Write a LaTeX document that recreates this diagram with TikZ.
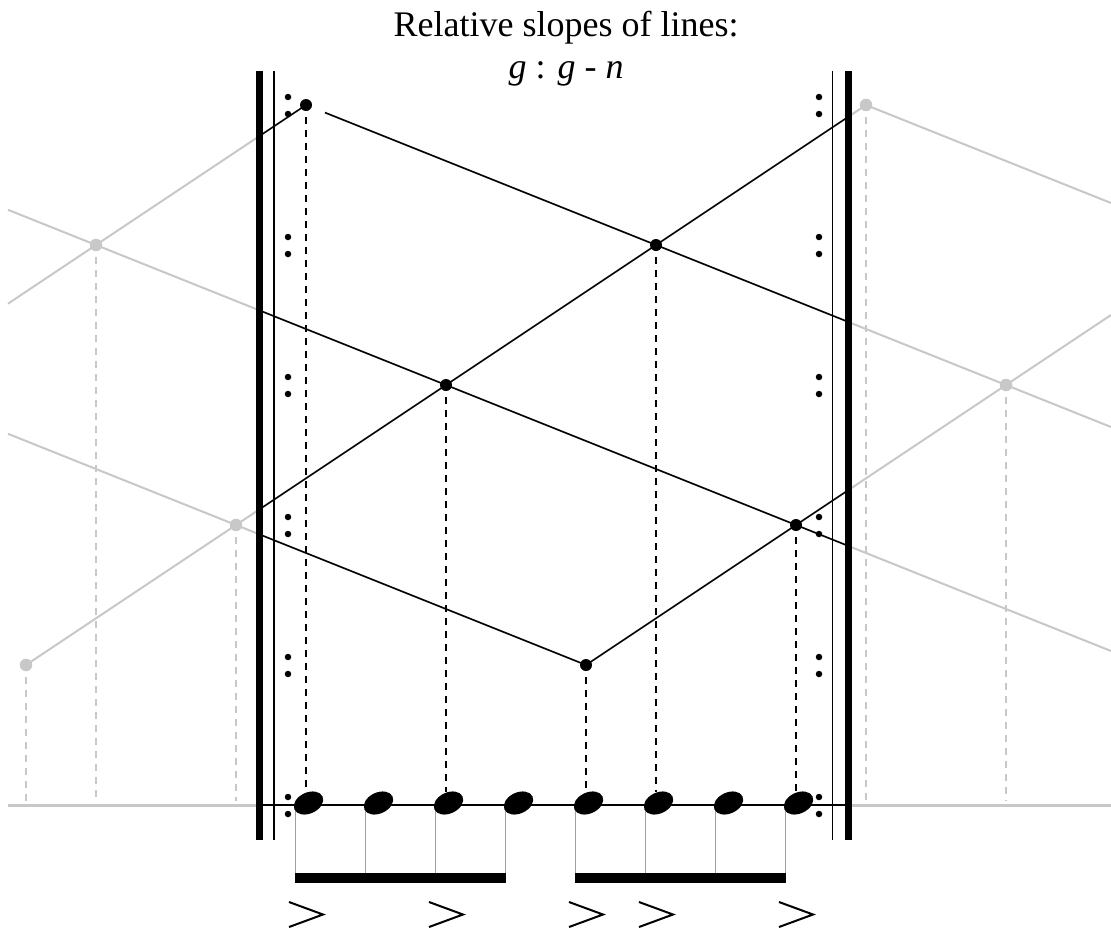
\documentclass[tikz,border=0pt]{standalone}
\usepackage{fontspec}
\setmainfont{Liberation Serif}
\usetikzlibrary{shapes.geometric}
\definecolor{lgray}{RGB}{200,200,200}
\definecolor{stemgray}{RGB}{160,160,160}
\tikzset{
  gline/.style={draw=lgray, line width=2pt},
  bline/.style={draw=black, line width=1.5pt},
  bdot/.style={circle, fill=black, inner sep=0pt, minimum size=12pt},
  gdot/.style={circle, fill=lgray, inner sep=0pt, minimum size=12.5pt},
  rdot/.style={circle, fill=black, inner sep=0pt, minimum size=6.5pt},
  bdash/.style={draw=black, line width=1.3pt, dash pattern=on 7pt off 6pt},
  gdash/.style={draw=lgray, line width=1.8pt, dash pattern=on 7pt off 6pt},
  thickbar/.style={line width=7pt},
  thinbar/.style={line width=1.5pt},
  notehead/.style={ellipse, fill=black, inner sep=0pt, minimum width=31pt, minimum height=21pt, rotate=25},
  stemline/.style={draw=stemgray, line width=1pt},
  beambar/.style={fill=black},
  accentmark/.style={draw=black, line width=2pt, line join=miter},
  titletext/.style={font=\fontsize{36pt}{40pt}\selectfont, inner sep=0pt, anchor=base}
}
\begin{document}
\begin{tikzpicture}[x=1pt, y=-1pt]
\useasboundingbox (0,0) rectangle (1111,932);

% title
\node[titletext] (title) at (566,36) {Relative slopes of lines:};
\node[titletext] (ratio) at (566,78) {\textit{g} : \textit{g} - \textit{n}};

% key points
\coordinate (P1) at (306,105);
\coordinate (P2) at (656,245);
\coordinate (P3) at (446,385);
\coordinate (P4) at (796,525);
\coordinate (P5) at (586,665);
\coordinate (G1) at (26,665);
\coordinate (G2) at (96,245);
\coordinate (G3) at (236,525);
\coordinate (G4) at (866,105);
\coordinate (G5) at (1006,385);
% free ends
\coordinate (L1s) at (325,112.6);
\coordinate (L1e) at (1111,427);
\coordinate (L4e) at (1111,203);
\coordinate (L2s) at (8,209.8);
\coordinate (L2e) at (1111,651);
\coordinate (L3s) at (8,433.8);
\coordinate (U0s) at (8,303.7);
\coordinate (U2e) at (1111,315);

% gray lines (full)
\draw[gline] (L1s) -- (P2) -- (G5) -- (L1e);
\draw[gline] (G4) -- (L4e);
\draw[gline] (L2s) -- (G2) -- (P3) -- (P4) -- (L2e);
\draw[gline] (L3s) -- (G3) -- (P5);
\draw[gline] (U0s) -- (G2) -- (P1);
\draw[gline] (G1) -- (G3) -- (P3) -- (P2) -- (G4);
\draw[gline] (P5) -- (P4) -- (G5) -- (U2e);

% black parts inside the repeat
\begin{scope}
\clip (259,0) rectangle (848,932);
\draw[bline] (L1s) -- (P2) -- (G5);
\draw[bline] (L2s) -- (G2) -- (P3) -- (P4) -- (L2e);
\draw[bline] (L3s) -- (G3) -- (P5);
\draw[bline] (G2) -- (P1);
\draw[bline] (G1) -- (G3) -- (P3) -- (P2) -- (G4);
\draw[bline] (P5) -- (P4) -- (G5);
\end{scope}

% staff line
\coordinate (SL) at (8,805);
\coordinate (SR) at (1111,805);
\coordinate (BL) at (259,805);
\coordinate (BR) at (848,805);
\draw[draw=lgray, line width=3pt] (SL) -- (BL);
\draw[draw=lgray, line width=3pt] (BR) -- (SR);
\draw[draw=black, line width=2.5pt] (BL) -- (BR);

% dashed verticals
\coordinate (dend) at (0,792);
\coordinate (gend) at (0,801);
\foreach \p in {P1,P2,P3,P4,P5}{
  \draw[bdash] ([yshift=-12pt]\p) -- (\p |- dend);
}
\foreach \p in {G1,G2,G3,G4,G5}{
  \draw[gdash] ([yshift=-12pt]\p) -- (\p |- gend);
}

% bar lines
\draw[thickbar] (259,71) -- (259,840);
\draw[thinbar] (274,71) -- (274,840);
\draw[thinbar] (832.5,71) -- (832.5,840);
\draw[thickbar] (848,71) -- (848,840);

% repeat dots
\foreach \yc in {105,245,385,525,665,805}{
  \node[rdot] at (288,\yc-8) {};
  \node[rdot] at (288,\yc+9) {};
  \node[rdot] at (819,\yc-8) {};
  \node[rdot] at (819,\yc+9) {};
}

% dots
\node[bdot] (n1) at (P1) {};
\node[bdot] (n2) at (P2) {};
\node[bdot] (n3) at (P3) {};
\node[bdot] (n4) at (P4) {};
\node[bdot] (n5) at (P5) {};
\node[gdot] (g1) at (G1) {};
\node[gdot] (g2) at (G2) {};
\node[gdot] (g3) at (G3) {};
\node[gdot] (g4) at (G4) {};
\node[gdot] (g5) at (G5) {};

% stems
\foreach \x in {295,365,435,505,575,645,715,785}{
  \draw[stemline] (\x,805) -- (\x,876);
}
% beams
\fill[beambar] (294.5,873) rectangle (505.5,883);
\fill[beambar] (574.5,873) rectangle (785.5,883);

% note heads
\foreach \x [count=\i] in {306,376,446,516,586,656,726,796}{
  \node[notehead] (h\i) at (\x+2.5,803) {};
}

% accents
\foreach \x in {306,446,586,656,796}{
  \draw[accentmark] (\x-17,902) -- (\x+17,914.5) -- (\x-17,927);
}
\end{tikzpicture}
\end{document}
